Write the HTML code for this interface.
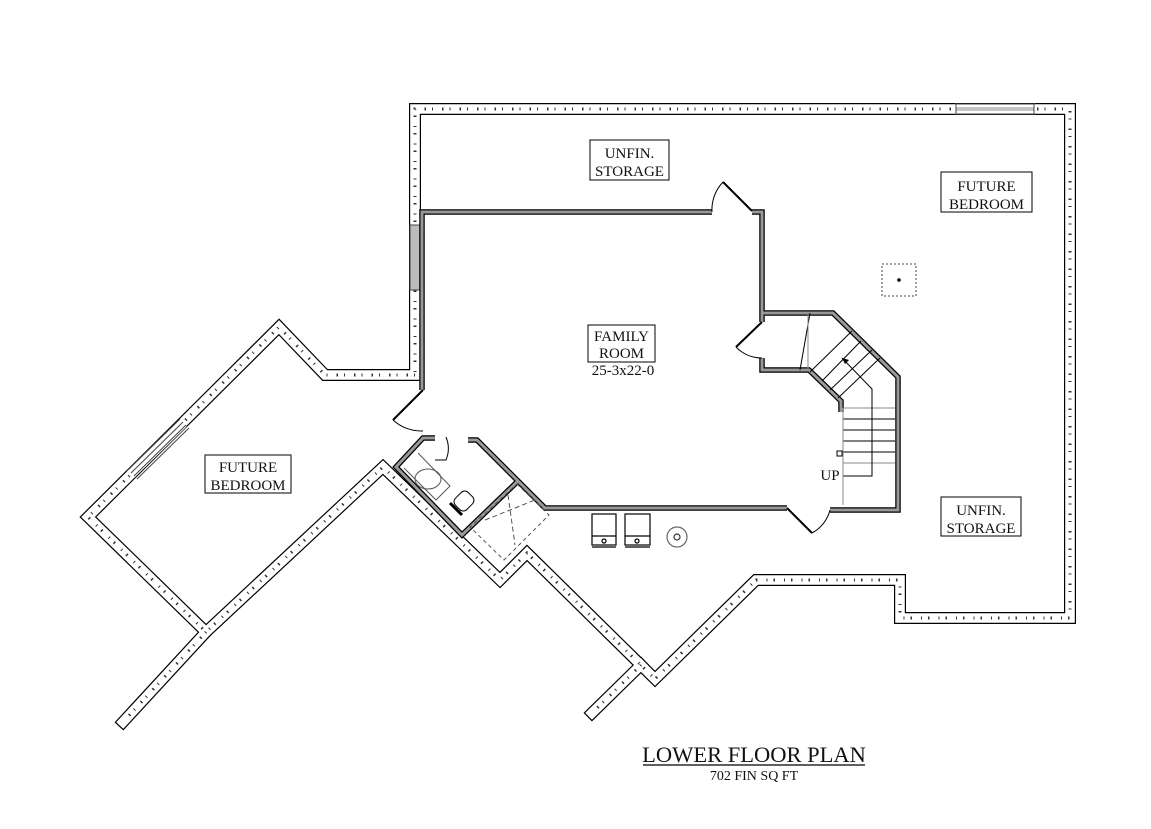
<!DOCTYPE html>
<html><head><meta charset="utf-8"><style>
html,body{margin:0;padding:0;background:#fff;}
svg{display:block;}
text{font-family:"Liberation Serif",serif;fill:#111;}
</style></head><body>
<svg width="1151" height="829" viewBox="0 0 1151 829" xmlns="http://www.w3.org/2000/svg">
<defs>
<g id="outer">
  <polyline points="415,375 325,375 279,327 88,517 206,632 383,467 500,580 527,553 655,679 756,580 900,580 900,618 1070,618 1070,109 415,109 415,375"/>
  <polyline points="206,632 123,722"/>
  <polyline points="641,665 592,713"/>
</g>
</defs>
<g fill="none" stroke-linejoin="miter" stroke-linecap="square">
  <use href="#outer" stroke="#000" stroke-width="12"/>
  <use href="#outer" stroke="#fff" stroke-width="9.6"/>
  <use href="#outer" stroke="#333" stroke-width="3" stroke-dasharray="1 6 1.5 9" stroke-linecap="butt"/>
</g>
<!-- windows -->
<g stroke="#444" fill="#fff">
  <rect x="956" y="104" width="78" height="10" fill="#fff" stroke="#fff"/>
  <line x1="956" y1="104" x2="1034" y2="104"/><line x1="956" y1="114" x2="1034" y2="114"/>
  <line x1="956" y1="108" x2="1034" y2="108" stroke="#888"/><line x1="956" y1="110" x2="1034" y2="110" stroke="#888"/>
  <line x1="956" y1="104" x2="956" y2="114"/><line x1="1034" y1="104" x2="1034" y2="114"/>
  <rect x="410" y="225" width="10" height="65" fill="#bbb"/>
  <line x1="131" y1="474" x2="183" y2="423" stroke="#fff" stroke-width="10"/>
  <line x1="128" y1="470" x2="180" y2="419" stroke-width="1"/>
  <line x1="131" y1="473" x2="183" y2="422" stroke-width="1"/>
  <line x1="134" y1="476" x2="186" y2="425" stroke-width="1"/>
  <line x1="137" y1="479" x2="189" y2="428" stroke-width="1"/>
</g>
<!-- interior walls -->
<g fill="none" stroke-linejoin="miter">
 <g id="iw">
  <polyline points="712,212 422,212 422,390"/>
  <polyline points="752,212 762,212 762,322"/>
  <polyline points="762,313 833,313 898,377 898,510 830,510"/>
  <polyline points="762,358 762,370 809,370 841,401 841,412"/>
  <polyline points="787,508 545,508 477,440 468,440"/>
  <polyline points="517,482 462,535 396,467 423,438 435,438"/>
 </g>
</g>
<use href="#iw" fill="none" stroke="#000" stroke-width="5.5"/>
<use href="#iw" fill="none" stroke="#999" stroke-width="3"/>
<!-- doors -->
<g fill="none" stroke="#000" stroke-width="1">
  <line x1="752" y1="211" x2="723" y2="182" stroke-width="2"/>
  <path d="M723,182 A40,40 0 0 0 712,212"/>
  <line x1="762" y1="322" x2="736" y2="347" stroke-width="2"/>
  <path d="M736,347 A36,36 0 0 0 762,358"/>
  <line x1="423" y1="390" x2="393" y2="420" stroke-width="2"/>
  <path d="M393,420 A42,42 0 0 0 423,431"/>
  <line x1="787" y1="508" x2="812" y2="533" stroke-width="2"/>
  <path d="M812,533 A36,36 0 0 0 830,510"/>
  <path d="M446,437 A30,30 0 0 1 446,460 L435,460" />
</g>
<!-- stairs -->
<g stroke="#000" stroke-width="1" fill="none">
  <line x1="810" y1="372" x2="852" y2="331"/>
  <line x1="822" y1="381" x2="861" y2="341"/>
  <line x1="830" y1="390" x2="872" y2="350"/>
  <line x1="838" y1="398" x2="880" y2="358"/>
  <line x1="843" y1="408" x2="895" y2="408" stroke="#888"/>
  <line x1="843" y1="419" x2="895" y2="419"/>
  <line x1="843" y1="430" x2="895" y2="430"/>
  <line x1="843" y1="441" x2="895" y2="441"/>
  <line x1="843" y1="452" x2="895" y2="452"/>
  <line x1="843" y1="463" x2="895" y2="463" stroke="#888"/>
  <polyline points="843,476 872,476 872,389 842,358"/>
  <line x1="843" y1="408" x2="843" y2="505" stroke="#888"/>
  <line x1="810" y1="313" x2="800" y2="370"/>
  <line x1="808" y1="313" x2="808" y2="370" stroke="#888"/>
  <rect x="837" y="451" width="5" height="5" fill="#fff"/>
</g>
<polygon points="842,358 849,360 845,364" fill="#000"/>
<!-- bath fixtures -->
<g stroke="#555" fill="none" stroke-width="1">
  <polyline points="418,453 450,486 436,500 404,468"/>
  <ellipse cx="428" cy="479" rx="13" ry="10"/>
  <rect x="455" y="493" width="18" height="16" rx="5" transform="rotate(-45 464 501)" stroke="#000"/>
  <line x1="450" y1="503" x2="462" y2="515" stroke="#000" stroke-width="3"/>
  <polygon points="517,484 549,515 504,560 470,527" stroke-dasharray="4 3"/>
  <line x1="485" y1="520" x2="535" y2="500" stroke-dasharray="5 3"/>
  <line x1="508" y1="495" x2="515" y2="545" stroke-dasharray="5 3"/>
</g>
<!-- washer dryer -->
<g stroke="#000" fill="#fff" stroke-width="1.2">
  <rect x="592" y="514" width="24" height="31"/><line x1="592" y1="536" x2="616" y2="536"/><circle cx="604" cy="541" r="2"/>
  <rect x="625" y="514" width="25" height="31"/><line x1="625" y1="536" x2="650" y2="536"/><circle cx="637" cy="541" r="2"/>
  <line x1="592" y1="547" x2="616" y2="547"/><line x1="625" y1="547" x2="650" y2="547"/>
  <circle cx="677" cy="537" r="10" stroke="#666"/><circle cx="677" cy="537" r="3" stroke="#333"/>
</g>
<!-- post -->
<rect x="882" y="264" width="34" height="32" fill="none" stroke="#444" stroke-dasharray="2 2"/>
<circle cx="899" cy="280" r="1.8" fill="#000"/>
<!-- labels -->
<g fill="#fff" stroke="#000" stroke-width="1">
  <rect x="590" y="140" width="79" height="40"/>
  <rect x="941" y="172" width="91" height="40"/>
  <rect x="588" y="325" width="67" height="37"/>
  <rect x="205" y="455" width="86" height="38"/>
  <rect x="941" y="497" width="80" height="39"/>
</g>
<g font-size="15" text-anchor="middle">
  <text x="629.5" y="158">UNFIN.</text><text x="629.5" y="176">STORAGE</text>
  <text x="986.5" y="191">FUTURE</text><text x="986.5" y="209">BEDROOM</text>
  <text x="621.5" y="341">FAMILY</text><text x="621.5" y="358">ROOM</text>
  <text x="623" y="375">25-3x22-0</text>
  <text x="248" y="472">FUTURE</text><text x="248" y="490">BEDROOM</text>
  <text x="981" y="515">UNFIN.</text><text x="981" y="533">STORAGE</text>
  <text x="830" y="480">UP</text>
</g>
<text x="754" y="762" font-size="22.5" text-anchor="middle">LOWER FLOOR PLAN</text>
<line x1="643" y1="765" x2="865" y2="765" stroke="#000" stroke-width="1.2"/>
<text x="754" y="780" font-size="14" text-anchor="middle">702 FIN SQ FT</text>
</svg>
</body></html>
